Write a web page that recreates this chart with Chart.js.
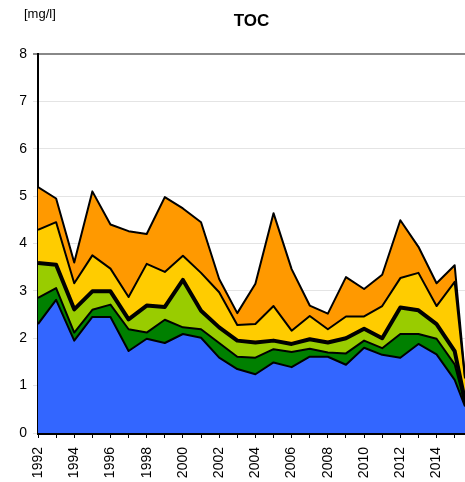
<!DOCTYPE html>
<html>
<head>
<meta charset="utf-8">
<script src="https://cdn.jsdelivr.net/npm/chart.js@4"></script>
<style>
  body { margin: 0; background: #fff; }
  #wrap { position: relative; width: 465px; height: 482px; }
</style>
</head>
<body>
<div id="wrap"><canvas id="tocChart"></canvas></div>
<script>
// sample years; the last sample sits right at the plot edge
const years = [1992, 1993, 1994, 1995, 1996, 1997, 1998, 1999, 2000, 2001, 2002, 2003,
  2004, 2005, 2006, 2007, 2008, 2009, 2010, 2011, 2012, 2013, 2014, 2015, 2015.57];

// layer values in mg/l, bottom to top
const blueVals = [2.30, 2.81, 1.95, 2.45, 2.45, 1.73, 1.99, 1.90, 2.09, 2.01, 1.59, 1.35,
  1.24, 1.49, 1.39, 1.61, 1.61, 1.44, 1.80, 1.65, 1.59, 1.88, 1.66, 1.12, 0.56];
const darkGreenVals = [0.55, 0.25, 0.17, 0.15, 0.26, 0.46, 0.13, 0.49, 0.14, 0.18, 0.31, 0.26,
  0.35, 0.28, 0.32, 0.17, 0.09, 0.24, 0.15, 0.14, 0.50, 0.21, 0.33, 0.33, 0.06];
const lightGreenVals = [0.74, 0.49, 0.49, 0.39, 0.28, 0.21, 0.57, 0.27, 1.00, 0.39, 0.33, 0.34,
  0.32, 0.18, 0.17, 0.20, 0.21, 0.32, 0.25, 0.21, 0.56, 0.50, 0.31, 0.28, 0.06];
const yellowVals = [0.70, 0.90, 0.55, 0.76, 0.48, 0.47, 0.88, 0.74, 0.51, 0.80, 0.74, 0.33,
  0.39, 0.73, 0.28, 0.49, 0.28, 0.46, 0.26, 0.68, 0.62, 0.79, 0.38, 1.46, 0.47];
const orangeVals = [0.90, 0.50, 0.44, 1.35, 0.93, 1.39, 0.63, 1.58, 1.00, 1.07, 0.28, 0.25,
  0.85, 1.96, 1.30, 0.22, 0.33, 0.83, 0.58, 0.66, 1.22, 0.55, 0.48, 0.35, 0.03];

const yTicks = [0, 1, 2, 3, 4, 5, 6, 7, 8];

const layers = [
  { vals: blueVals, color: "#3366ff", width: 2 },
  { vals: darkGreenVals, color: "#008000", width: 2 },
  { vals: lightGreenVals, color: "#99cc00", width: 4 },
  { vals: yellowVals, color: "#ffcc00", width: 2 },
  { vals: orangeVals, color: "#ff9900", width: 2 },
];

const fontFamily = "'Liberation Sans', Arial, sans-serif";

const titlePlugin = {
  id: "titles",
  afterDraw(chart) {
    const ctx = chart.ctx;
    const area = chart.chartArea;
    ctx.save();
    ctx.fillStyle = "#000";
    ctx.textBaseline = "middle";
    ctx.textAlign = "center";
    ctx.font = "bold 17px " + fontFamily;
    ctx.fillText("TOC", (area.left + area.right) / 2, 21);
    ctx.textAlign = "left";
    ctx.font = "13px " + fontFamily;
    ctx.fillText("[mg/l]", 24, 14);
    ctx.restore();
  },
};

const datasets = layers.map((layer, i) => ({
  data: years.map((yr, j) => ({ x: yr, y: layer.vals[j] })),
  backgroundColor: layer.color,
  borderColor: "#000",
  borderWidth: layer.width,
  borderJoinStyle: "round",
  fill: i === 0 ? "origin" : "-1",
  pointRadius: 0,
  tension: 0,
}));

new Chart(document.getElementById("tocChart"), {
  type: "line",
  data: { datasets: datasets },
  options: {
    responsive: true,
    maintainAspectRatio: false,
    animation: false,
    layout: { padding: { top: 54, right: 0, bottom: 0, left: 0 } },
    plugins: {
      legend: { display: false },
      tooltip: { enabled: false },
      filler: { drawTime: "beforeDatasetsDraw" },
    },
    scales: {
      x: {
        type: "linear",
        min: years[0],
        max: years[years.length - 1],
        afterFit: (scale) => {
          scale.height = 49;
          scale.paddingLeft = 0;
          scale.paddingRight = 0;
        },
        afterBuildTicks: (scale) => {
          const t = [];
          for (let yr = 1992; yr <= 2015; yr++) t.push({ value: yr });
          scale.ticks = t;
        },
        ticks: {
          autoSkip: false,
          minRotation: 90,
          maxRotation: 90,
          padding: 9,
          color: "#000",
          font: { family: fontFamily, size: 14 },
          callback: (v) => (v % 2 === 0 ? String(v) : ""),
        },
        grid: { drawOnChartArea: false, drawTicks: true, tickLength: 5, color: "#000" },
        border: { color: "#000", width: 3 },
      },
      y: {
        stacked: true,
        min: 0,
        max: 8,
        afterFit: (scale) => { scale.width = 38; },
        afterBuildTicks: (scale) => { scale.ticks = yTicks.map((v) => ({ value: v })); },
        ticks: {
          padding: 6,
          color: "#000",
          font: { family: fontFamily, size: 14 },
        },
        grid: {
          color: (c) => (c.tick && c.tick.value === 8 ? "#888" : "#e4e4e4"),
          lineWidth: (c) => (c.tick && c.tick.value === 8 ? 2 : 1),
          tickLength: 5,
        },
        border: { color: "#000", width: 2 },
      },
    },
  },
  plugins: [titlePlugin],
});
</script>
</body>
</html>
